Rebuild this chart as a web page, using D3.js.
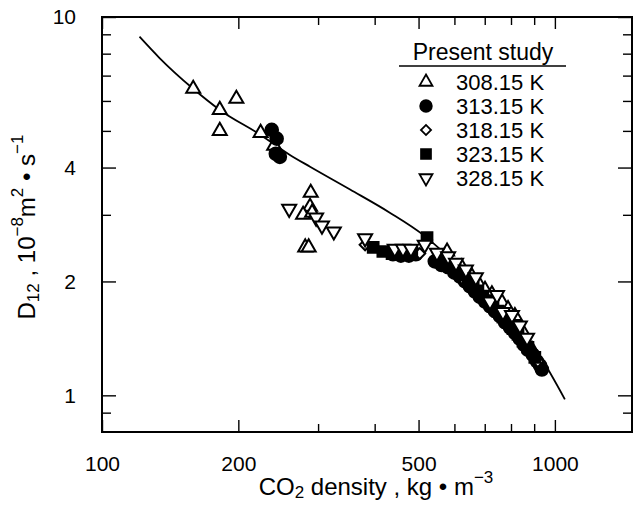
<!DOCTYPE html>
<html>
<head>
<meta charset="utf-8">
<script src="https://cdn.jsdelivr.net/npm/d3@7"></script>
<style>
  body { margin: 0; background: #fff; }
  svg { font-family: "Liberation Sans", Arial, sans-serif; }
  .frame { fill: none; stroke: #000; stroke-width: 2; }
  .axis path { display: none; }
  .axis line { stroke: #000; stroke-width: 1.4; }
  .axis text { font-size: 21px; fill: #000; }
  .fit { fill: none; stroke: #000; stroke-width: 1.8; }
</style>
</head>
<body>
<svg id="chart"></svg>
<script>
// tick values for the log axes
const xMajor = [100, 200, 500, 1000];
const xMinor = [300, 400, 600, 700, 800, 900];
const yMajor = [1, 2, 4, 10];
const yMinor = [0.9, 3, 5, 6, 7, 8, 9];

// correlation line (density kg/m3, D12 1e-8 m2/s)
const fitLine = [
  [121, 8.87], [134, 7.79], [159, 6.46], [182, 5.68], [224, 4.88],
  [260, 4.32], [288, 4.02], [353, 3.50], [432, 3.04], [511, 2.66],
  [572, 2.37], [649, 2.05], [756, 1.74], [837, 1.51], [927, 1.27],
  [1052, 0.976],
];

// Present study, 308.15 K
const t308 = [
  [159, 6.46], [182, 5.68], [198, 6.08], [182, 5.00], [224, 4.94],
  [240, 4.57], [289, 3.43], [288, 3.15], [278, 3.00], [291, 3.04],
  [281, 2.46], [286, 2.46], [578, 2.40], [623, 2.18], [656, 2.06],
  [676, 1.99], [701, 1.90], [726, 1.85], [764, 1.76], [788, 1.69],
  [816, 1.62], [850, 1.47], [890, 1.32],
];

// 313.15 K
const t313 = [
  [237, 5.03], [243, 4.77], [242, 4.35], [247, 4.27], [439, 2.36],
  [457, 2.34], [476, 2.34], [493, 2.36], [543, 2.26], [562, 2.21],
  [581, 2.18], [600, 2.11], [617, 2.06], [633, 2.00], [649, 1.94],
  [666, 1.88], [683, 1.82], [701, 1.77], [719, 1.72], [737, 1.67],
  [756, 1.62], [776, 1.56], [796, 1.51], [817, 1.46], [837, 1.41],
  [855, 1.36], [872, 1.32], [894, 1.28], [913, 1.23], [927, 1.20],
  [936, 1.17],
];

// 318.15 K
const t318 = [
  [381, 2.50], [437, 2.38], [503, 2.37], [572, 2.22], [633, 2.00],
  [701, 1.81], [776, 1.61], [859, 1.39], [917, 1.23],
];

// 323.15 K
const t323 = [
  [397, 2.46], [417, 2.40], [437, 2.37], [460, 2.37], [483, 2.38],
  [522, 2.61], [560, 2.26], [581, 2.21], [602, 2.15], [622, 2.08],
  [643, 2.02], [660, 1.95], [676, 1.89], [693, 1.83], [711, 1.78],
  [730, 1.72], [748, 1.67], [768, 1.61], [788, 1.56], [808, 1.50],
  [829, 1.45], [850, 1.39], [872, 1.34], [903, 1.26],
];

// 328.15 K
const t328 = [
  [259, 3.11], [297, 2.95], [306, 2.81], [325, 2.71], [381, 2.60],
  [443, 2.44], [462, 2.44], [481, 2.44], [516, 2.50], [549, 2.38],
  [581, 2.33], [605, 2.24], [636, 2.15], [669, 2.05], [719, 1.77],
  [745, 1.84], [768, 1.66], [804, 1.63], [837, 1.53], [868, 1.42],
];

const legendTitle = 'Present study';
const legendLabels = ['308.15 K', '313.15 K', '318.15 K', '323.15 K', '328.15 K'];

const width = 633;
const height = 505;

const svg = d3.select('#chart').attr('width', width).attr('height', height);

const x = d3.scaleLog().domain([100, 1480]).range([102, 632]);
const y = d3.scaleLog().domain([0.8, 10]).range([432, 17]);

// frame
svg.append('rect')
  .attr('class', 'frame')
  .attr('x', x.range()[0])
  .attr('y', y.range()[1])
  .attr('width', x.range()[1] - x.range()[0])
  .attr('height', y.range()[0] - y.range()[1]);

// axes, ticks pointing inward
function addAxis(axis, tr, labels) {
  const g = svg.append('g').attr('class', 'axis').attr('transform', tr).call(axis);
  if (!labels) g.selectAll('text').remove();
  return g;
}

addAxis(d3.axisBottom(x).tickValues(xMajor).tickSize(-12).tickPadding(24).tickFormat(d3.format('d')),
  `translate(0,${y.range()[0]})`, true);
addAxis(d3.axisBottom(x).tickValues(xMinor).tickSize(-8), `translate(0,${y.range()[0]})`, false);
addAxis(d3.axisTop(x).tickValues(xMajor).tickSize(-12), `translate(0,${y.range()[1]})`, false);
addAxis(d3.axisTop(x).tickValues(xMinor).tickSize(-8), `translate(0,${y.range()[1]})`, false);

addAxis(d3.axisLeft(y).tickValues(yMajor).tickSize(-14).tickPadding(26).tickFormat(d3.format('d')),
  `translate(${x.range()[0]},0)`, true);
addAxis(d3.axisLeft(y).tickValues(yMinor).tickSize(-9), `translate(${x.range()[0]},0)`, false);
addAxis(d3.axisRight(y).tickValues(yMajor).tickSize(-14), `translate(${x.range()[1]},0)`, false);
addAxis(d3.axisRight(y).tickValues(yMinor).tickSize(-9), `translate(${x.range()[1]},0)`, false);

// correlation line
const line = d3.line()
  .x(d => x(d[0]))
  .y(d => y(d[1]))
  .curve(d3.curveMonotoneX);

svg.append('path').datum(fitLine).attr('class', 'fit').attr('d', line);

// marker styles
const styles = [
  { sym: d3.symbolTriangle, size: 85, rot: 0, fill: '#fff' },
  { sym: d3.symbolCircle, size: 125, rot: 0, fill: '#000' },
  { sym: d3.symbolSquare, size: 60, rot: 45, fill: '#fff' },
  { sym: d3.symbolSquare, size: 115, rot: 0, fill: '#000' },
  { sym: d3.symbolTriangle, size: 85, rot: 180, fill: '#fff' },
];
const seriesList = [t308, t313, t318, t323, t328];

seriesList.forEach((data, i) => {
  const s = styles[i];
  svg.append('g')
    .selectAll('path')
    .data(data)
    .join('path')
    .attr('d', d3.symbol().type(s.sym).size(s.size))
    .attr('transform', d => `translate(${x(d[0])},${y(d[1])}) rotate(${s.rot})`)
    .attr('fill', s.fill)
    .attr('stroke', '#000')
    .attr('stroke-width', 2);
});

// legend
const lg = svg.append('g');
lg.append('text')
  .attr('x', 483).attr('y', 60)
  .attr('text-anchor', 'middle')
  .attr('font-size', 23)
  .text(legendTitle);
lg.append('line')
  .attr('x1', 399).attr('x2', 566).attr('y1', 66).attr('y2', 66)
  .attr('stroke', '#000').attr('stroke-width', 1.5);

legendLabels.forEach((lab, i) => {
  const s = styles[i];
  const cy = 82 + i * 24;
  lg.append('path')
    .attr('d', d3.symbol().type(s.sym).size(s.size * 0.85))
    .attr('transform', `translate(426,${cy}) rotate(${s.rot})`)
    .attr('fill', s.fill)
    .attr('stroke', '#000')
    .attr('stroke-width', 1.8);
  lg.append('text')
    .attr('x', 456).attr('y', cy + 8)
    .attr('font-size', 22)
    .text(lab);
});

// axis titles
const xt = svg.append('text')
  .attr('x', 376).attr('y', 495)
  .attr('text-anchor', 'middle')
  .attr('font-size', 24);
xt.append('tspan').text('CO');
xt.append('tspan').attr('font-size', 17).attr('baseline-shift', '-20%').text('2');
xt.append('tspan').text(' density , kg • m');
xt.append('tspan').attr('font-size', 17).attr('baseline-shift', '70%').text('−3');

const yt = svg.append('text')
  .attr('transform', 'translate(35,227) rotate(-90)')
  .attr('text-anchor', 'middle')
  .attr('font-size', 24);
yt.append('tspan').text('D');
yt.append('tspan').attr('font-size', 17).attr('baseline-shift', '-25%').text('12');
yt.append('tspan').text(' , 10');
yt.append('tspan').attr('font-size', 17).attr('baseline-shift', '70%').text('−8');
yt.append('tspan').text('m');
yt.append('tspan').attr('font-size', 17).attr('baseline-shift', '70%').text('2');
yt.append('tspan').text(' • s');
yt.append('tspan').attr('font-size', 17).attr('baseline-shift', '70%').text('−1');
</script>
</body>
</html>
